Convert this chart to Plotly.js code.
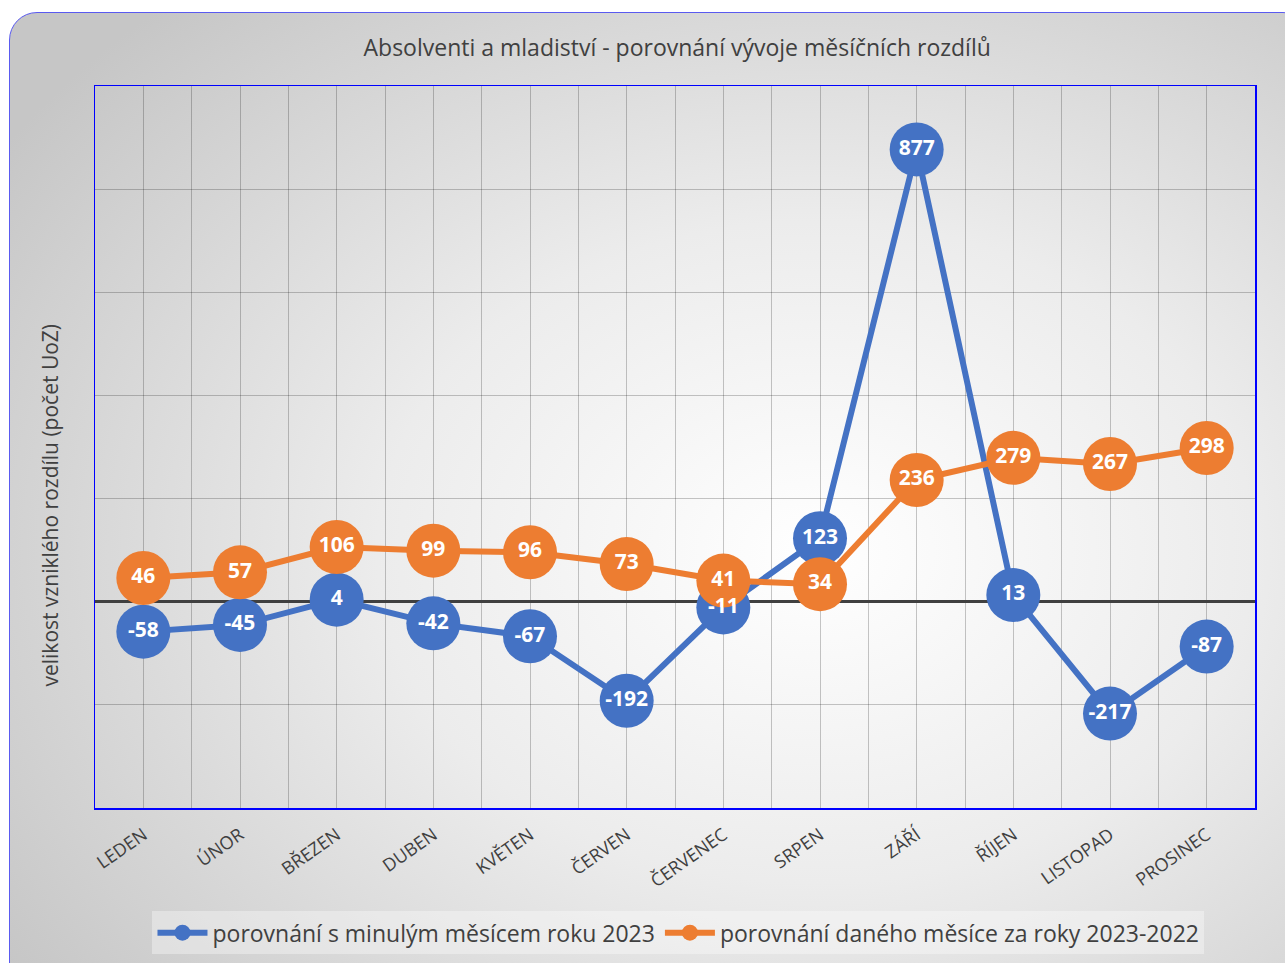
<!DOCTYPE html>
<html>
<head>
<meta charset="utf-8">
<script src="https://cdn.plot.ly/plotly-3.0.1.min.js"></script>
<style>
  html, body { margin: 0; padding: 0; width: 1285px; height: 963px; overflow: hidden; background: #ffffff; }
  #frame {
    position: absolute; left: 9px; top: 12px; width: 1300px; height: 980px;
    border: 1.5px solid #5a5af0; border-radius: 28px;
    background: radial-gradient(ellipse 75% 75% at 62% 55%, #ffffff 0%, #ececec 45%, #c6c6c6 100%);
  }
  #chart { position: absolute; left: 0; top: 0; width: 1285px; height: 963px; }
</style>
</head>
<body>
<div id="frame"></div>
<div id="chart"></div>
<script>
const months = ["LEDEN", "ÚNOR", "BŘEZEN", "DUBEN", "KVĚTEN", "ČERVEN", "ČERVENEC", "SRPEN", "ZÁŘÍ", "ŘÍJEN", "LISTOPAD", "PROSINEC"];
const seriesMonthly = [-58, -45, 4, -42, -67, -192, -11, 123, 877, 13, -217, -87];
const seriesYearly = [46, 57, 106, 99, 96, 73, 41, 34, 236, 279, 267, 298];
const nameMonthly = "porovnání s minulým měsícem roku 2023";
const nameYearly = "porovnání daného měsíce za roky 2023-2022";
const chartTitle = "Absolventi a mladiství - porovnání vývoje měsíčních rozdílů";
const yTitle = "velikost vzniklého rozdílu (počet UoZ)";

const xIdx = months.map((m, i) => i);
const blue = "#4472c4";
const orange = "#ed7d31";
const labelFont = { family: "Open Sans, sans-serif", size: 21, color: "#ffffff", weight: 700 };

const traces = [
  { x: xIdx, y: seriesMonthly, name: nameMonthly, type: "scatter", mode: "lines+markers",
    line: { color: blue, width: 6 }, marker: { color: blue, size: 54 }, hoverinfo: "y" },
  { x: xIdx, y: seriesYearly, name: nameYearly, type: "scatter", mode: "lines+markers",
    line: { color: orange, width: 6 }, marker: { color: orange, size: 54 }, hoverinfo: "y" },
  { x: xIdx, y: seriesMonthly, text: seriesMonthly.map(String), type: "scatter", mode: "text",
    textposition: "middle center", textfont: labelFont, showlegend: false, hoverinfo: "skip" },
  { x: xIdx, y: seriesYearly, text: seriesYearly.map(String), type: "scatter", mode: "text",
    textposition: "middle center", textfont: labelFont, showlegend: false, hoverinfo: "skip" }
];

const layout = {
  width: 1285, height: 963,
  paper_bgcolor: "rgba(0,0,0,0)", plot_bgcolor: "rgba(0,0,0,0)",
  margin: { l: 95, r: 30, t: 86, b: 155, autoexpand: false },
  font: { family: "Open Sans, sans-serif", color: "#404040" },
  title: { text: chartTitle, font: { size: 23, color: "#404040" }, x: 0.527, xanchor: "center", y: 0.95, yanchor: "middle" },
  showlegend: true,
  legend: { orientation: "h", x: 0.503, xanchor: "center", y: -0.143, yanchor: "top",
    bgcolor: "rgba(255,255,255,0.35)", font: { size: 23, color: "#404040" }, itemwidth: 50 },
  xaxis: {
    range: [-0.5, 11.5], tickmode: "array", tickvals: xIdx, ticktext: months,
    tickangle: -35, tickfont: { size: 18, color: "#404040" }, ticklabelstandoff: 8,
    showgrid: true, gridcolor: "rgba(0,0,0,0.22)", gridwidth: 1,
    minor: { tick0: -0.5, dtick: 1, showgrid: true, gridcolor: "rgba(0,0,0,0.22)", gridwidth: 1, ticks: "" },
    zeroline: false, showline: true, linecolor: "#0000ff", linewidth: 1.5, mirror: true, ticks: "", automargin: false
  },
  yaxis: {
    range: [-400, 1000], dtick: 200, showticklabels: false,
    showgrid: true, gridcolor: "rgba(0,0,0,0.22)", gridwidth: 1,
    zeroline: true, zerolinecolor: "#404040", zerolinewidth: 3,
    showline: true, linecolor: "#0000ff", linewidth: 1.5, mirror: true, ticks: "", automargin: false
  },
  annotations: [
    { text: yTitle, textangle: -90, xref: "paper", yref: "paper", x: -0.039, y: 0.42,
      xanchor: "center", yanchor: "middle", showarrow: false, font: { size: 21, color: "#404040" } }
  ]
};

Plotly.newPlot("chart", traces, layout, { displayModeBar: false, staticPlot: true });
</script>
</body>
</html>
